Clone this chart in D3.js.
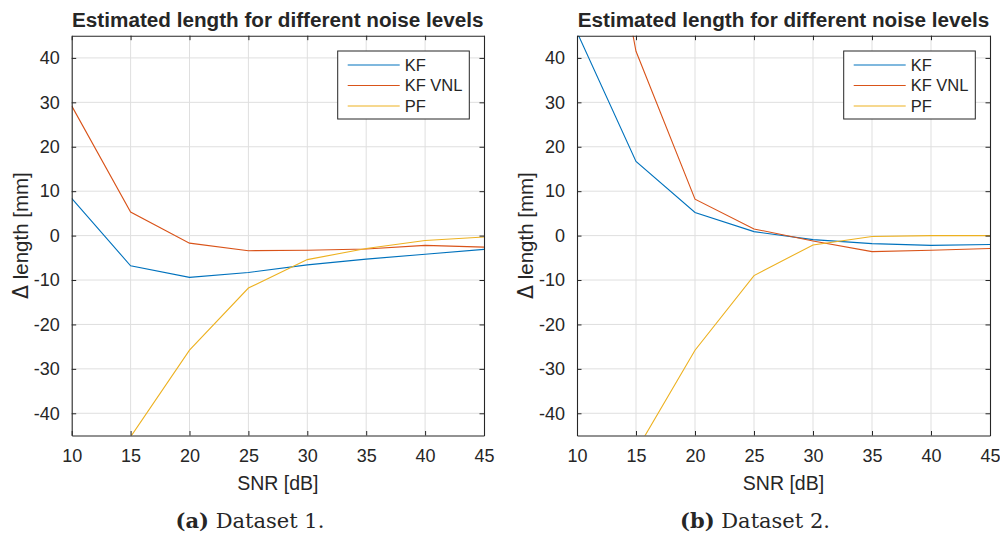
<!DOCTYPE html>
<html>
<head>
<meta charset="utf-8">
<script src="https://cdn.jsdelivr.net/npm/d3@7"></script>
<style>
  html, body { margin: 0; padding: 0; background: #fff; }
  svg { display: block; }
  text { font-family: "Liberation Sans", Arial, sans-serif; fill: #262626; }
</style>
</head>
<body>
<svg id="fig" width="1000" height="534"></svg>
<script>
// SNR levels (dB) shared by both datasets
const snr = [10, 15, 20, 25, 30, 35, 40, 45];
const xTicks = [10, 15, 20, 25, 30, 35, 40, 45];
const yTicks = [-40, -30, -20, -10, 0, 10, 20, 30, 40];
const seriesNames = ["KF", "KF VNL", "PF"];
const seriesColors = ["#0072BD", "#D95319", "#EDB120"];

// Dataset 1: length error [mm]
const d1KF    = [8.4, -6.8, -9.4, -8.3, -6.6, -5.3, -4.2, -3.1];
const d1KFVNL = [29.2, 5.3, -1.7, -3.4, -3.3, -3.0, -2.2, -2.6];
const d1PF    = [-75, -45.3, -25.8, -11.8, -5.4, -2.9, -1.1, -0.3];

// Dataset 2: length error [mm]
const d2KF    = [45.8, 16.7, 5.2, 0.9, -0.9, -1.8, -2.2, -2.0];
const d2KFVNL = [112, 41.5, 8.2, 1.5, -1.2, -3.6, -3.3, -2.9];
const d2PF    = [-85, -48.5, -25.8, -9.0, -2.1, -0.2, 0.0, 0.0];

const titleText = "Estimated length for different noise levels";
const xLabel = "SNR [dB]";
const yLabelSymbol = "\u0394";
const yLabelRest = " length [mm]";

const svg = d3.select("#fig");

function panel(id, left, right, series, captionTag, captionText, captionX) {
  const top = 35.7, bottom = 435.5;
  const x = d3.scaleLinear().domain([10, 45]).range([left, right]);
  const y = d3.scaleLinear().domain([-45, 45]).range([bottom, top]);
  const g = svg.append("g");

  g.append("clipPath").attr("id", "clip-" + id)
    .append("rect").attr("x", left).attr("y", top)
    .attr("width", right - left).attr("height", bottom - top);

  // grid
  g.append("g").selectAll("line").data(xTicks.slice(1, -1)).join("line")
    .attr("x1", d => x(d)).attr("x2", d => x(d))
    .attr("y1", top).attr("y2", bottom)
    .attr("stroke", "#dfdfdf").attr("stroke-width", 1);
  g.append("g").selectAll("line").data(yTicks).join("line")
    .attr("x1", left).attr("x2", right)
    .attr("y1", d => y(d)).attr("y2", d => y(d))
    .attr("stroke", "#dfdfdf").attr("stroke-width", 1);

  // series lines
  const line = d3.line().x((d, i) => x(snr[i])).y(d => y(d));
  g.append("g").attr("clip-path", `url(#clip-${id})`)
    .selectAll("path").data(series).join("path")
    .attr("d", d => line(d))
    .attr("fill", "none")
    .attr("stroke", (d, i) => seriesColors[i])
    .attr("stroke-width", 1.1);

  // axes with inward ticks on all four sides
  const tl = 4.5;
  const fmt = d => String(d);
  const axB = d3.axisBottom(x).tickValues(xTicks).tickFormat(fmt).tickSizeInner(-tl).tickSizeOuter(0).tickPadding(14);
  const axT = d3.axisTop(x).tickValues(xTicks).tickSizeInner(-tl).tickSizeOuter(0).tickFormat("");
  const axL = d3.axisLeft(y).tickValues(yTicks).tickFormat(fmt).tickSizeInner(-tl).tickSizeOuter(0).tickPadding(12);
  const axR = d3.axisRight(y).tickValues(yTicks).tickSizeInner(-tl).tickSizeOuter(0).tickFormat("");

  const style = sel => {
    sel.selectAll("path").attr("stroke", "#262626").attr("stroke-width", 1.1);
    sel.selectAll("line").attr("stroke", "#262626").attr("stroke-width", 1);
    sel.selectAll("text").attr("fill", "#262626")
      .style("font-family", '"Liberation Sans", Arial, sans-serif')
      .style("font-size", "18px");
  };
  g.append("g").attr("transform", `translate(0,${bottom})`).call(axB).call(style);
  g.append("g").attr("transform", `translate(0,${top})`).call(axT).call(style);
  g.append("g").attr("transform", `translate(${left},0)`).call(axL).call(style);
  g.append("g").attr("transform", `translate(${right},0)`).call(axR).call(style);

  // title and axis labels
  const cx = (left + right) / 2;
  g.append("text").attr("x", cx).attr("y", 26.5).attr("text-anchor", "middle")
    .style("font-size", "20.7px").style("font-weight", "bold").attr("fill", "#000")
    .text(titleText);
  g.append("text").attr("x", cx).attr("y", 490).attr("text-anchor", "middle")
    .style("font-size", "19.5px").text(xLabel);
  const yl = g.append("text").attr("transform", `translate(${left - 44},${(top + bottom) / 2}) rotate(-90)`)
    .attr("text-anchor", "middle").style("font-size", "20.5px");
  yl.append("tspan").style("font-family", '"DejaVu Sans", sans-serif').text(yLabelSymbol);
  yl.append("tspan").text(yLabelRest);

  // legend
  const lw = 131.6, lh = 68;
  const lx = right - 14.7 - lw, ly = 51;
  const leg = g.append("g");
  leg.append("rect").attr("x", lx).attr("y", ly).attr("width", lw).attr("height", lh)
    .attr("fill", "#fff").attr("stroke", "#262626").attr("stroke-width", 1);
  const rows = [14, 34.5, 55];
  seriesNames.forEach((name, i) => {
    leg.append("line").attr("x1", lx + 10).attr("x2", lx + 62)
      .attr("y1", ly + rows[i]).attr("y2", ly + rows[i])
      .attr("stroke", seriesColors[i]).attr("stroke-width", 1.1);
    leg.append("text").attr("x", lx + 67).attr("y", ly + rows[i]).attr("dy", "0.36em")
      .style("font-size", "16.5px").attr("fill", "#000").text(name);
  });

  // caption
  const cap = g.append("text").attr("x", captionX).attr("y", 528).attr("text-anchor", "middle")
    .style("font-family", '"DejaVu Serif", "Liberation Serif", serif')
    .style("font-size", "21px").attr("fill", "#000");
  cap.append("tspan").style("font-weight", "bold").text(captionTag);
  cap.append("tspan").text(" " + captionText);
}

panel("a", 71.7, 484, [d1KF, d1KFVNL, d1PF], "(a)", "Dataset 1.", 250);
panel("b", 577, 990, [d2KF, d2KFVNL, d2PF], "(b)", "Dataset 2.", 755);
</script>
</body>
</html>
